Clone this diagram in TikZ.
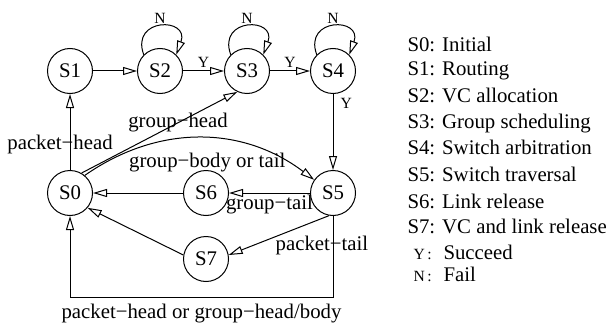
\documentclass[tikz,border=0pt]{standalone}
\usepackage{fontspec}
\setmainfont{Liberation Serif}
\usetikzlibrary{arrows.meta}
\tikzset{
  state/.style={draw,circle,minimum size=22.5pt,inner sep=0pt},
  yn/.style={font=\fontsize{7.8}{9}\selectfont,inner sep=1.5pt},
  legend/.style={anchor=west,inner sep=0pt,text height=7.3pt,text depth=2.2pt},
}
\begin{document}
\begin{tikzpicture}[x=0.5pt,y=0.5pt,line width=0.5pt,font=\fontsize{10.4}{12.5}\selectfont]
      \useasboundingbox (0,0) rectangle (608,327);
      \draw
        (70,134) node[state] (S0){S0}
        (70,256) node[state] (S1){S1}
        (160,256) node[state] (S2){S2}
        (247,256) node[state] (S3){S3}
        (333,256) node[state] (S4){S4}
        (333,134) node[state] (S5){S5}
        (206,134) node[state] (S6){S6}
        (206,68) node[state] (S7){S7};
      \coordinate (bottom) at (0,30);
      \begin{scope}[-{Triangle[open,length=7pt,width=4pt]}]
        \draw (S1) to (S2);
        \draw (S2) to node[yn,above]{Y} (S3);
        \draw (S3) to node[yn,above]{Y} (S4);
        \draw (S4) to node[yn,right,pos=0.12,xshift=2pt]{Y} (S5);
        \draw (S2.135) to[out=110,in=70,distance=20pt] node[yn,above]{N} (S2.45);
        \draw (S3.135) to[out=110,in=70,distance=20pt] node[yn,above]{N} (S3.45);
        \draw (S4.135) to[out=110,in=70,distance=20pt] node[yn,above]{N} (S4.45);
        \draw (S0) to node[pos=0.33,xshift=-5pt]{packet−head} (S1);
        \draw (S0.60) to node[pos=0.62]{group−head} (S3.-115);
        \draw (S0.50) to[bend left=36] node[pos=0.5,xshift=3.5pt,yshift=-12.5pt]{group−body or tail} (S5.145);
        \draw (S5) to node[below,inner sep=1pt]{group−tail} (S6);
        \draw (S6) to (S0);
        \draw (S5.-100) to node[pos=0.25,xshift=9pt,yshift=-10pt]{packet−tail} (S7.10);
        \draw (S7.170) to (S0.-40);
        \draw (S5.south) -- (S5.south |- bottom) -| node[pos=0.25,below]{packet−head or group−head/body} (S0.south);
      \end{scope}
      % legend
      \node[legend] (l0) at (407,281) {S0: Initial};
      \node[legend] (l1) at (407,257) {S1: Routing};
      \node[legend] (l2) at (407,230) {S2: VC allocation};
      \node[legend] (l3) at (407,204) {S3: Group scheduling};
      \node[legend] (l4) at (407,178) {S4: Switch arbitration};
      \node[legend] (l5) at (407,151) {S5: Switch traversal};
      \node[legend] (l6) at (407,124) {S6: Link release};
      \node[legend] (l7) at (407,99) {S7: VC and link release};
      \node[legend,yn,inner sep=0pt] (ly) at (413,73) {Y\,:};
      \node[legend] (lys) at (443,73) {Succeed};
      \node[legend,yn,inner sep=0pt] (ln) at (413,51) {N\,:};
      \node[legend] (lnf) at (443,51) {Fail};
    \end{tikzpicture}
\end{document}
